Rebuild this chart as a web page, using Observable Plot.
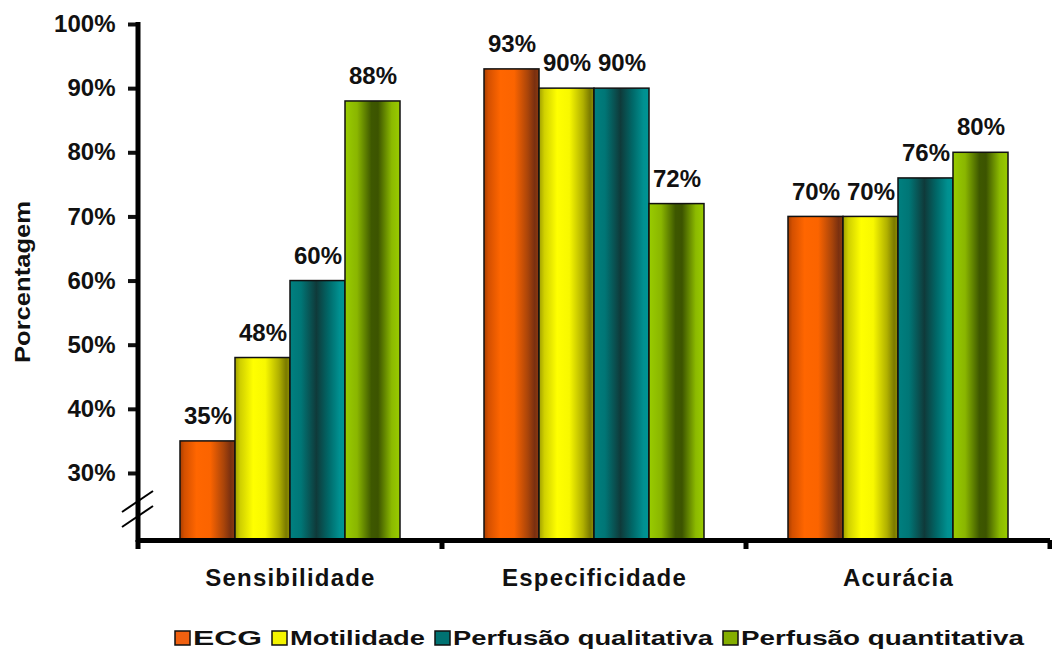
<!DOCTYPE html>
<html>
<head>
<meta charset="utf-8">
<script src="https://cdn.jsdelivr.net/npm/d3@7"></script>
<script src="https://cdn.jsdelivr.net/npm/@observablehq/plot@0.6"></script>
<style>
  body { margin: 0; background: #fff; }
  #chart { width: 1052px; }
  #chart svg { display: block; }
</style>
</head>
<body>
<div id="chart"></div>
<script>
// Categories and series
const groups = ["Sensibilidade", "Especificidade", "Acurácia"];
const series = ["ECG", "Motilidade", "Perfusão qualitativa", "Perfusão quantitativa"];

// Values (%) per series, in the order of `groups`
const ecg = [35, 93, 70];
const motilidade = [48, 90, 70];
const perfusaoQualitativa = [60, 90, 76];
const perfusaoQuantitativa = [88, 72, 80];

// Axis
const yTicks = [30, 40, 50, 60, 70, 80, 90, 100];
const yFloor = 19.55; // broken axis: the baseline sits below 30%
const yTitle = "Porcentagem";

const seriesValues = [ecg, motilidade, perfusaoQualitativa, perfusaoQuantitativa];
const rows = series.flatMap((s, i) =>
  groups.map((g, j) => ({ group: g, series: s, value: seriesValues[i][j] }))
);

// Cylinder-like horizontal shading for each series
const gradIds = series.map((_, i) => `bar-shade-${i}`);
const gradStops = [
  [[0, "#a83e00"], [0.08, "#d45000"], [0.3, "#ff6600"], [0.55, "#fb6400"], [0.8, "#a8440a"], [0.92, "#7a3010"], [1, "#8a3a10"]],
  [[0, "#a0a000"], [0.1, "#d0d000"], [0.33, "#ffff00"], [0.55, "#f8f800"], [0.8, "#b0b000"], [0.93, "#7a7a00"], [1, "#909000"]],
  [[0, "#008080"], [0.2, "#007676"], [0.48, "#0f3a3a"], [0.7, "#006868"], [0.9, "#009090"], [1, "#009595"]],
  [[0, "#99cc00"], [0.22, "#8ab600"], [0.48, "#3e5800"], [0.6, "#3c5400"], [0.85, "#8cba00"], [1, "#9acc00"]]
];
const legendColors = ["#f06010", "#f4f400", "#007272", "#84ae00"];

const plot = Plot.plot({
  width: 1052,
  height: 600,
  marginTop: 24,
  marginLeft: 138,
  marginRight: 2,
  marginBottom: 60,
  style: { fontFamily: "'Liberation Sans', Arial, sans-serif", background: "#fff", color: "#111", overflow: "visible" },
  fx: { domain: groups, padding: 0, label: null },
  x: { domain: series, paddingInner: 0, paddingOuter: 0.74, axis: null },
  y: { domain: [yFloor, 100] },
  color: { domain: series, range: gradIds.map(id => `url(#${id})`) },
  marks: [
    Plot.barY(rows, {
      fx: "group", x: "series", y1: () => yFloor, y2: "value",
      fill: "series", stroke: "#111", strokeWidth: 1.5
    }),
    Plot.text(rows, {
      fx: "group", x: "series", y: "value",
      text: d => `${d.value}%`, dy: -25,
      fontSize: 24, fontWeight: "bold", fill: "#111"
    }),
    Plot.ruleY([yFloor], { stroke: "#000", strokeWidth: 5 }),
    Plot.axisY({
      ticks: yTicks, tickFormat: d => `${d}%`,
      tickSize: 10, tickPadding: 13, strokeWidth: 4,
      fontSize: 24, fontWeight: "bold", label: null
    }),
    Plot.axisFx({
      anchor: "bottom", tickSize: 0, tickPadding: 28,
      fontSize: 24, fontWeight: "bold", label: null
    })
  ]
});

const svg = d3.select(plot);

// Gradient definitions for the bars
const defs = svg.insert("defs", ":first-child");
gradStops.forEach((stops, i) => {
  const g = defs.append("linearGradient")
    .attr("id", gradIds[i])
    .attr("x1", 0).attr("x2", 1).attr("y1", 0).attr("y2", 0);
  stops.forEach(([o, c]) => g.append("stop").attr("offset", o).attr("stop-color", c));
});

// Slightly spaced category labels
svg.selectAll('g[aria-label="fx-axis tick label"] text').style("letter-spacing", "1.2px");

const y = plot.scale("y");
const fx = plot.scale("fx");
const yTop = y.apply(100);
const yBase = y.apply(yFloor);
const left = fx.apply(groups[0]);
const bounds = groups.map(g => fx.apply(g)).concat([fx.apply(groups[groups.length - 1]) + fx.bandwidth]);

const deco = svg.append("g").attr("stroke", "#000").attr("fill", "none");

// Vertical axis line
deco.append("line")
  .attr("x1", left).attr("x2", left)
  .attr("y1", yTop - 2).attr("y2", yBase + 2)
  .attr("stroke-width", 5);

// Tick marks between categories on the horizontal axis
bounds.forEach(b => {
  deco.append("line")
    .attr("x1", b).attr("x2", b)
    .attr("y1", yBase).attr("y2", yBase + 9)
    .attr("stroke-width", 5);
});

// Axis break marks
[yBase - 38, yBase - 23].forEach(cy => {
  deco.append("line")
    .attr("x1", left - 16).attr("y1", cy + 10)
    .attr("x2", left + 15).attr("y2", cy - 11)
    .attr("stroke-width", 2);
});

// Y axis title
svg.append("text")
  .attr("transform", `translate(22,${(yTop + yBase) / 2}) rotate(-90)`)
  .attr("text-anchor", "middle")
  .attr("dy", "0.35em")
  .attr("font-size", 22)
  .attr("font-weight", "bold")
  .attr("fill", "#111")
  .attr("textLength", 162)
  .attr("lengthAdjust", "spacingAndGlyphs")
  .text(yTitle);

document.getElementById("chart").appendChild(plot);

// Legend below the chart
const legendLengths = [69, 135, 260, 283];
const legend = d3.select("#chart").append("svg")
  .attr("width", 1052).attr("height", 53)
  .style("font-family", "'Liberation Sans', Arial, sans-serif");
let lx = 175;
series.forEach((s, i) => {
  legend.append("rect")
    .attr("x", lx).attr("y", 31).attr("width", 15).attr("height", 14)
    .attr("fill", legendColors[i]).attr("stroke", "#111").attr("stroke-width", 1.5);
  lx += 18;
  legend.append("text")
    .attr("x", lx).attr("y", 45)
    .attr("font-size", 21).attr("font-weight", "bold").attr("fill", "#111")
    .attr("textLength", legendLengths[i])
    .attr("lengthAdjust", "spacingAndGlyphs")
    .text(s);
  lx += legendLengths[i] + 10;
});
</script>
</body>
</html>
